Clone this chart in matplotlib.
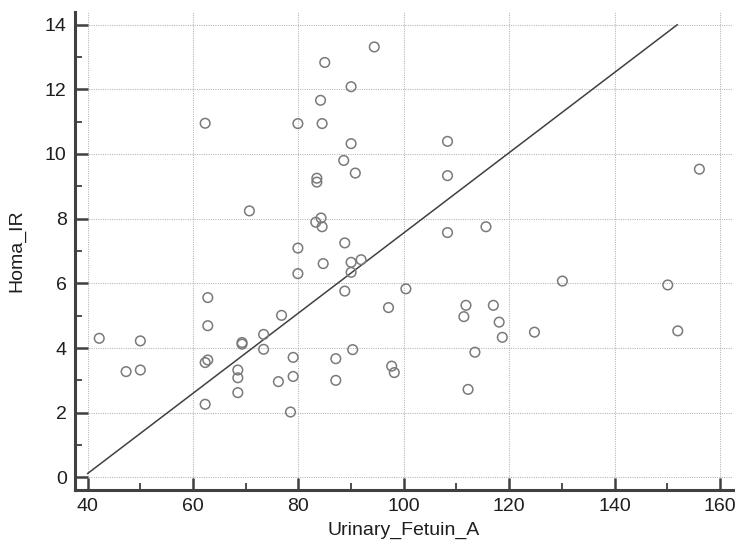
import matplotlib
matplotlib.use("Agg")
import matplotlib.pyplot as plt
import numpy as np
from matplotlib.ticker import MultipleLocator

plt.rcParams['font.family'] = ['Liberation Sans', 'DejaVu Sans']

urinary_fetuin_a = [42.2, 47.3, 50.0, 50.0, 62.8, 62.8, 62.3, 62.8, 62.3, 68.5,
                    68.5, 68.5, 69.3, 69.3, 62.3, 70.7, 94.4, 85.0, 90.0, 84.2,
                    79.9, 84.5, 90.0, 108.3, 88.6, 90.8, 108.3, 83.5, 83.5, 83.3,
                    84.3, 84.5, 108.3, 115.6, 79.9, 88.8, 84.7, 90.0, 91.9, 79.9,
                    90.0, 88.8, 100.4, 97.1, 76.8, 73.4, 73.4, 79.0, 79.0, 76.2,
                    78.5, 87.1, 87.1, 90.3, 97.7, 98.2, 111.8, 111.4, 113.5, 112.2,
                    117.0, 118.1, 118.7, 130.1, 124.8, 150.1, 152.0, 156.1]
homa_ir = [4.30, 3.27, 3.32, 4.22, 5.56, 4.69, 3.55, 3.63, 2.26, 3.32,
           3.08, 2.62, 4.17, 4.12, 10.95, 8.24, 13.31, 12.83, 12.08, 11.66,
           10.94, 10.94, 10.32, 10.39, 9.80, 9.41, 9.33, 9.25, 9.13, 7.89,
           8.02, 7.75, 7.57, 7.75, 7.09, 7.25, 6.61, 6.65, 6.73, 6.30,
           6.34, 5.76, 5.83, 5.25, 5.01, 4.42, 3.96, 3.71, 3.12, 2.96,
           2.02, 3.67, 3.00, 3.95, 3.44, 3.24, 5.32, 4.97, 3.87, 2.72,
           5.32, 4.80, 4.33, 6.07, 4.49, 5.95, 4.53, 9.53]

# fitted line: y = intercept + slope * x
line_slope = 0.1240
line_intercept = -4.84
line_x_range = [40.0, 151.9]

x_ticks = [40, 60, 80, 100, 120, 140, 160]
y_ticks = [0, 2, 4, 6, 8, 10, 12, 14]

fig = plt.figure(figsize=(7.39, 5.46), dpi=100)
ax = fig.add_axes([0.1015, 0.1026, 0.8905, 0.8754])

spine_col = '#404040'
text_col = '#1e1e1e'
ax.set_xlim(37.6, 162.5)
ax.set_ylim(-0.39, 14.39)
ax.set_xticks(x_ticks)
ax.set_yticks(y_ticks)
ax.xaxis.set_minor_locator(MultipleLocator(10))
ax.yaxis.set_minor_locator(MultipleLocator(1))

ax.grid(True, which='major', linestyle=(0, (1, 1.2)), color='#b4b4b4', linewidth=0.75)
ax.set_axisbelow(True)

for s in ['top', 'right']:
    ax.spines[s].set_visible(False)
for s in ['left', 'bottom']:
    ax.spines[s].set_color(spine_col)
    ax.spines[s].set_linewidth(2.2)

ax.tick_params(which='major', direction='in', length=9, width=1.8, color=spine_col,
               labelsize=14, labelcolor=text_col, pad=6)
ax.tick_params(which='minor', direction='in', length=5, width=1.3, color=spine_col)

lx = np.array(line_x_range)
ax.plot(lx, line_intercept + line_slope * lx, color='#404040', linewidth=1.1, zorder=2)

ax.scatter(urinary_fetuin_a, homa_ir, s=48, facecolors='none', edgecolors='#7a7a7a',
           linewidths=1.1, zorder=3, clip_on=False)

ax.set_xlabel('Urinary_Fetuin_A', fontsize=14, color=text_col, labelpad=5)
ax.set_ylabel('Homa_IR', fontsize=14, color=text_col, labelpad=14)

fig.savefig('out.png', dpi=100)
